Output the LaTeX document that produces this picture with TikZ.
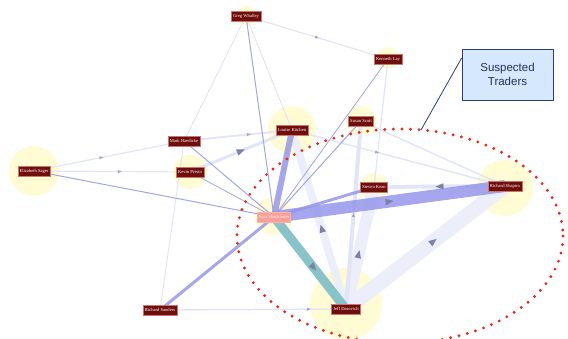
\documentclass[tikz,border=0pt]{standalone}
\usepackage{fontspec}
\setmainfont{Liberation Sans}
\newfontfamily\labelfont{Liberation Serif}
\usetikzlibrary{decorations.markings}
\definecolor{lbl}{RGB}{112,14,14}
\definecolor{lblrim}{RGB}{200,120,110}
\definecolor{hub}{RGB}{248,160,150}
\definecolor{glowc}{RGB}{255,250,200}
\definecolor{strong}{RGB}{150,150,235}
\definecolor{thin}{RGB}{160,165,228}
\definecolor{faint}{RGB}{226,229,246}
\definecolor{pale}{RGB}{236,238,250}
\definecolor{teal}{RGB}{135,195,200}
\definecolor{tipc}{RGB}{125,130,165}
\definecolor{ring}{RGB}{232,40,20}
\definecolor{calloutfill}{RGB}{214,232,252}
\definecolor{calloutline}{RGB}{45,60,115}
\begin{document}
\begin{tikzpicture}[x=1pt,y=-1pt,
  person/.style={fill=lbl, draw=lblrim, line width=0.4pt, text=white,
    font=\labelfont\fontsize{4.6}{5}\selectfont, inner sep=1.8pt, minimum height=9.5pt},
  glow/.style={circle, fill=glowc, draw=none, opacity=0.8, minimum size=#1},
  link/.style={draw=faint, line width=#1},
  bond/.style={draw=strong, line width=#1, draw opacity=0.85},
  fine/.style={draw=thin, line width=#1},
  tip/.style={postaction={decorate}, decoration={markings,
    mark=at position #1 with {\fill[tipc] (4pt,0) -- (-4pt,3.3pt) -- (-4pt,-3.3pt) -- cycle;}}},
  smalltip/.style={postaction={decorate}, decoration={markings,
    mark=at position #1 with {\fill[tipc!70] (2pt,0) -- (-2pt,1.6pt) -- (-2pt,-1.6pt) -- cycle;}}}
]
\useasboundingbox (0,0) rectangle (568,339);

% soft halos behind the people
\node[glow=50pt] (gSager) at (34,171) {};
\node[glow=34pt] (gPresto) at (190,172) {};
\node[glow=48pt] (gKitchen) at (292,130) {};
\node[glow=30pt] (gScott) at (361,121) {};
\node[glow=28pt] (gKean) at (374,187) {};
\node[glow=56pt] (gShapiro) at (505,188) {};
\node[glow=38pt] (gHub) at (274,216) {};
\node[glow=72pt] (gDasovich) at (346,304) {};
\node[glow=20pt] (gWhalley) at (246,16) {};
\node[glow=22pt] (gLay) at (388,58) {};

% coordinates of the people
\coordinate (Whalley) at (246,16);
\coordinate (Lay) at (388,59);
\coordinate (Sager) at (34,171);
\coordinate (Haedicke) at (184,141);
\coordinate (Presto) at (190,172);
\coordinate (Kitchen) at (292,130);
\coordinate (Scott) at (361,121);
\coordinate (Kean) at (374,187);
\coordinate (Shapiro) at (505,186);
\coordinate (Hub) at (274,217);
\coordinate (Dasovich) at (346,309);
\coordinate (Sanders) at (160,310);

% faint links
\draw[link=1.2pt, smalltip=0.5] (Whalley) -- (Lay);
\draw[link=1pt] (Whalley) -- (Haedicke);
\draw[link=1pt] (Whalley) -- (Kitchen);
\draw[link=1.2pt, smalltip=0.45] (Sager) -- (Haedicke);
\draw[link=1.2pt, smalltip=0.55] (Sager) -- (Presto);
\draw[link=3pt, tip=0.5] (Presto) -- (Kitchen);
\draw[link=2pt, smalltip=0.6] (Haedicke) -- (Kitchen);
\draw[link=1pt] (Haedicke) -- (Sanders);
\draw[link=1.5pt, smalltip=0.8] (Sanders) -- (Dasovich);
\draw[link=1.2pt] (Lay) -- (Kean);
\draw[link=1.5pt, smalltip=0.4] (Kitchen) -- (Shapiro);
\draw[link=1.5pt] (Scott) -- (Shapiro);
\draw[link=4pt, tip=0.5] (Shapiro) -- (Kean);
\draw[pale, line width=15pt, tip=0.55] (Dasovich) -- (Shapiro);
\draw[pale, line width=12pt, tip=0.45] (Dasovich) -- (Kean);
\draw[pale, line width=8pt, tip=0.45] (Dasovich) -- (Kitchen);
\draw[link=4pt, smalltip=0.5] (Dasovich) -- (Scott);

% links of the hub
\draw[fine=1pt] (Hub) -- (Whalley);
\draw[fine=0.8pt] (Hub) -- (Lay);
\draw[fine=1pt] (Hub) -- (Sager);
\draw[fine=1pt] (Hub) -- (Haedicke);
\draw[fine=0.8pt] (Hub) -- (Presto);
\draw[fine=1pt] (Hub) -- (Scott);
\draw[bond=3pt, smalltip=0.5] (Hub) -- (Kean);
\draw[bond=3pt] (Hub) -- (Sanders);
\draw[bond=6pt, smalltip=0.55] (Hub) -- (Kitchen);
\draw[teal, line width=9pt, tip=0.55] (Hub) -- (Dasovich);
\draw[bond=12pt, tip=0.5] (Hub) -- (Shapiro);

% people
\node[person] (nWhalley) at (Whalley) {Greg Whalley};
\node[person] (nLay) at (Lay) {Kenneth Lay};
\node[person] (nSager) at (Sager) {Elizabeth Sager};
\node[person] (nHaedicke) at (Haedicke) {Mark Haedicke};
\node[person] (nPresto) at (Presto) {Kevin Presto};
\node[person] (nKitchen) at (Kitchen) {Louise Kitchen};
\node[person] (nScott) at (Scott) {Susan Scott};
\node[person] (nKean) at (Kean) {Steven Kean};
\node[person] (nShapiro) at (Shapiro) {Richard Shapiro};
\node[person, fill=hub, draw=hub!80!white, text=white!90!hub] (nHub) at (Hub) {Sara Shackleton};
\node[person] (nDasovich) at (Dasovich) {Jeff Dasovich};
\node[person] (nSanders) at (Sanders) {Richard Sanders};

% ring round the suspects
\draw[ring, line width=3.2pt, line cap=round, dash pattern=on 0pt off 8.6pt]
  (400,236) ellipse [x radius=163, y radius=107];
\coordinate (ringtop) at (421,130);

% callout
\node[draw=calloutline, fill=calloutfill, line width=0.8pt, minimum width=91pt,
  minimum height=51pt, align=center, font=\fontsize{11.5}{14}\selectfont,
  text=calloutline!80!black] (callout) at (507.5,74.5) {Suspected\\Traders};
\draw[calloutline, line width=0.8pt] (callout.west |- 0,58) -- (ringtop);
\end{tikzpicture}
\end{document}
